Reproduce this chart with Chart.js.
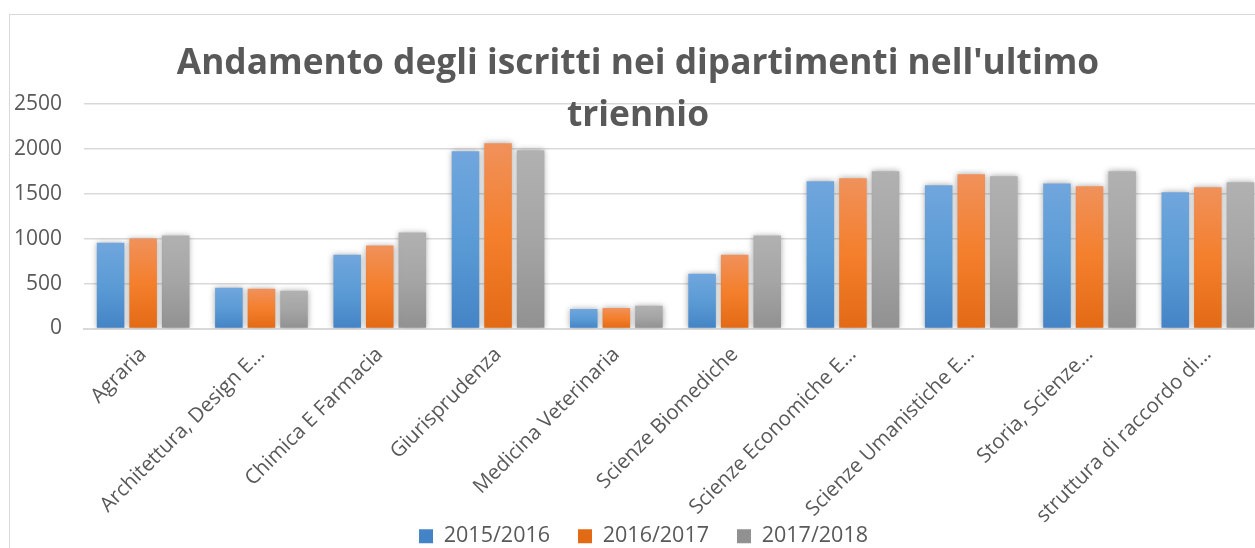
<!DOCTYPE html>
<html>
<head>
<meta charset="utf-8">
<script src="https://cdn.jsdelivr.net/npm/chart.js@4.4.1/dist/chart.umd.min.js"></script>
<style>
  html, body { margin: 0; padding: 0; background: #fff; width: 1255px; height: 548px; overflow: hidden; }
  #frame { position: absolute; left: 9px; top: 14px; width: 1257px; height: 548px; border: 1px solid #d9d9d9; background: #fff; }
  #title {
    position: absolute; left: 0; top: 34px; width: 1276px; z-index: 2;
    text-align: center; font-family: "Open Sans", sans-serif; font-weight: bold;
    font-size: 35.3px; line-height: 52px; color: #595959; pointer-events: none;
  }
</style>
</head>
<body>
<div id="frame"><canvas id="myChart"></canvas></div>
<div id="title">Andamento degli iscritti nei dipartimenti nell'ultimo<br>triennio</div>
<script>
// categories (long names are cut off in the original, as Excel shows them)
const categories = [
  'Agraria',
  'Architettura, Design E…',
  'Chimica E Farmacia',
  'Giurisprudenza',
  'Medicina Veterinaria',
  'Scienze Biomediche',
  'Scienze Economiche E…',
  'Scienze Umanistiche E…',
  'Storia, Scienze…',
  'struttura di raccordo di…'
];
const seriesNames = ['2015/2016', '2016/2017', '2017/2018'];

// enrolled students per year
const iscritti2015 = [956, 453, 822, 1974, 218, 610, 1639, 1594, 1616, 1516];
const iscritti2016 = [1001, 442, 923, 2064, 229, 822, 1672, 1717, 1583, 1572];
const iscritti2017 = [1035, 420, 1068, 1985, 252, 1035, 1750, 1695, 1750, 1628];

const yTicks = [0, 500, 1000, 1500, 2000, 2500];

const FONT = '"Open Sans", sans-serif';
const TEXT = '#595959';

// excel style vertical gradient, per bar
function barFill(top, mid, bottom) {
    return function (c) {
        if (c.type !== 'data') return mid;
        const y = c.chart.scales.y;
        if (!y) return mid;
        const y0 = y.getPixelForValue(c.raw);
        const y1 = y.getPixelForValue(0);
        if (!isFinite(y0) || y1 - y0 < 1) return mid;
        const g = c.chart.ctx.createLinearGradient(0, y0, 0, y1);
        g.addColorStop(0, top);
        g.addColorStop(0.5, mid);
        g.addColorStop(1, bottom);
        return g;
    };
}

// soft outer shadow round the bars
const barShadow = {
    id: 'barShadow',
    beforeDatasetsDraw(chart) {
        const ctx = chart.ctx;
        ctx.save();
        ctx.shadowColor = 'rgba(0, 0, 0, 0.35)';
        ctx.shadowBlur = 6;
        ctx.shadowOffsetX = 0;
        ctx.shadowOffsetY = 0;
    },
    afterDatasetsDraw(chart) {
        chart.ctx.restore();
    }
};

// labels overflow their axis boxes (rotated names run next to the legend,
// y labels sit in the left padding), so widen the clip boxes
const unclipLabels = {
    id: 'unclipLabels',
    afterLayout(chart) {
        chart.scales.x.bottom = chart.height;
        chart.scales.y.left = 0;
    }
};

const ctx = document.getElementById('myChart').getContext('2d');
const chart = new Chart(ctx, {
    type: 'bar',
    data: {
        labels: categories,
        datasets: [{
            label: seriesNames[0],
            data: iscritti2015,
            backgroundColor: barFill('#70a6dd', '#5b9bd5', '#4484c6')
        }, {
            label: seriesNames[1],
            data: iscritti2016,
            backgroundColor: barFill('#f0915b', '#f47f2c', '#e36a15')
        }, {
            label: seriesNames[2],
            data: iscritti2017,
            backgroundColor: barFill('#b1b1b1', '#a5a5a5', '#919191')
        }]
    },
    options: {
        responsive: true,
        maintainAspectRatio: false,
        animation: false,
        devicePixelRatio: 1,
        categoryPercentage: 0.826,
        barPercentage: 0.846,
        layout: { padding: { top: 89, left: 10, right: 0, bottom: 6 } },
        plugins: {
            title: { display: false },
            tooltip: { enabled: false },
            legend: {
                position: 'bottom',
                labels: {
                    boxWidth: 14,
                    boxHeight: 14,
                    padding: 28,
                    color: TEXT,
                    font: { family: FONT, size: 21.5 }
                }
            }
        },
        scales: {
            x: {
                grid: { display: false },
                border: { color: '#d9d9d9', width: 2 },
                ticks: {
                    color: TEXT,
                    font: { family: FONT, size: 20.5 },
                    minRotation: 45,
                    maxRotation: 45,
                    autoSkip: false,
                    padding: 6
                },
                afterFit(s) { s.height = 169; }
            },
            y: {
                min: 0,
                max: yTicks[yTicks.length - 1],
                afterBuildTicks(s) { s.ticks = yTicks.map(v => ({ value: v })); },
                grid: { color: '#d9d9d9', lineWidth: 1.5, drawTicks: false },
                border: { display: false },
                ticks: {
                    color: TEXT,
                    font: { family: FONT, size: 21 },
                    padding: 22,
                    callback: v => String(v)
                },
                afterFit(s) { s.width = 64; }
            }
        }
    },
    plugins: [barShadow, unclipLabels]
});
</script>
</body>
</html>
